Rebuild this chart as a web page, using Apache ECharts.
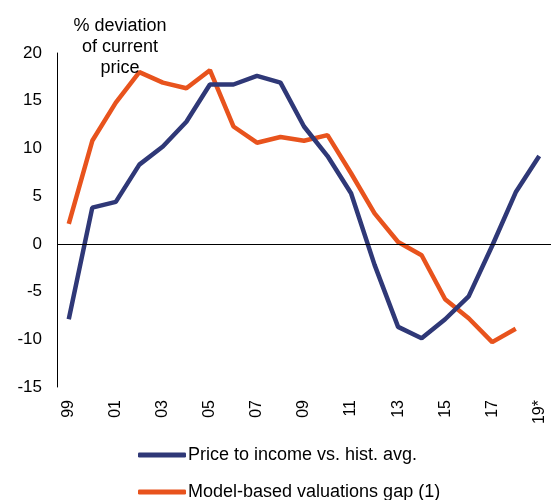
<!DOCTYPE html>
<html>
<head>
<meta charset="utf-8">
<script src="https://cdn.jsdelivr.net/npm/echarts@6/dist/echarts.min.js"></script>
<style>
  html, body { margin: 0; padding: 0; background: #fff; }
  #main { width: 551px; height: 500px; }
</style>
</head>
<body>
<div id="main"></div>
<script>
var years = ['99', '00', '01', '02', '03', '04', '05', '06', '07', '08', '09',
    '10', '11', '12', '13', '14', '15', '16', '17', '18', '19*'];
var priceToIncome = [-7.9, 3.8, 4.4, 8.3, 10.2, 12.8, 16.7, 16.7, 17.6, 16.9, 12.3,
    9.2, 5.3, -2.2, -8.7, -9.9, -7.9, -5.5, -0.2, 5.4, 9.2];
var modelGap = [2.1, 10.8, 14.8, 18.0, 16.9, 16.3, 18.2, 12.3, 10.6, 11.2, 10.8,
    11.4, 7.4, 3.2, 0.2, -1.2, -5.8, -7.8, -10.3, -8.9, null];
var yTicks = { min: -15, max: 20, step: 5 };

var font = 'Liberation Sans, Arial, sans-serif';
var seriesNames = ['Price to income vs. hist. avg.', 'Model-based valuations gap (1)'];

// one legend per row, stacked
var makeLegend = function (name, top) {
    return {
        data: [name],
        left: 133,
        top: top,
        itemWidth: 48,
        itemHeight: 5,
        icon: 'roundRect',
        textStyle: {
            fontFamily: font,
            fontSize: 18,
            color: '#000',
            lineHeight: 20,
            padding: [0, 0, 0, -3]
        }
    };
};

var chart = echarts.init(document.getElementById('main'));
var option = {
    animation: false,
    title: {
        text: '% deviation\nof current\nprice',
        left: 115,
        top: 11,
        textAlign: 'center',
        textStyle: {
            fontFamily: font,
            fontSize: 18,
            fontWeight: 'normal',
            color: '#000',
            lineHeight: 21
        }
    },
    grid: {
        left: 57,
        top: 53,
        width: 498,
        height: 334
    },
    legend: [makeLegend(seriesNames[0], 440), makeLegend(seriesNames[1], 477)],
    xAxis: {
        type: 'category',
        data: years,
        boundaryGap: true,
        axisLine: { show: false },
        axisTick: { show: false },
        axisLabel: {
            interval: 1,
            rotate: 90,
            margin: 13,
            fontFamily: font,
            fontSize: 16,
            color: '#000'
        }
    },
    yAxis: {
        type: 'value',
        min: yTicks.min,
        max: yTicks.max,
        interval: yTicks.step,
        axisLine: { show: true, lineStyle: { color: '#000', width: 1 } },
        axisTick: { show: false },
        splitLine: { show: false },
        axisLabel: {
            margin: 15,
            fontFamily: font,
            fontSize: 17,
            color: '#000'
        }
    },
    series: [{
        name: seriesNames[0],
        type: 'line',
        data: priceToIncome,
        symbol: 'none',
        lineStyle: { color: '#2f3877', width: 4.5 },
        itemStyle: { color: '#2f3877' },
        markLine: {
            silent: true,
            symbol: 'none',
            label: { show: false },
            lineStyle: { color: '#000', width: 1, type: 'solid' },
            data: [{ yAxis: 0 }]
        },
        z: 3
    }, {
        name: seriesNames[1],
        type: 'line',
        data: modelGap,
        symbol: 'none',
        lineStyle: { color: '#e8531d', width: 4.5 },
        itemStyle: { color: '#e8531d' },
        z: 2
    }]
};
chart.setOption(option);
</script>
</body>
</html>
